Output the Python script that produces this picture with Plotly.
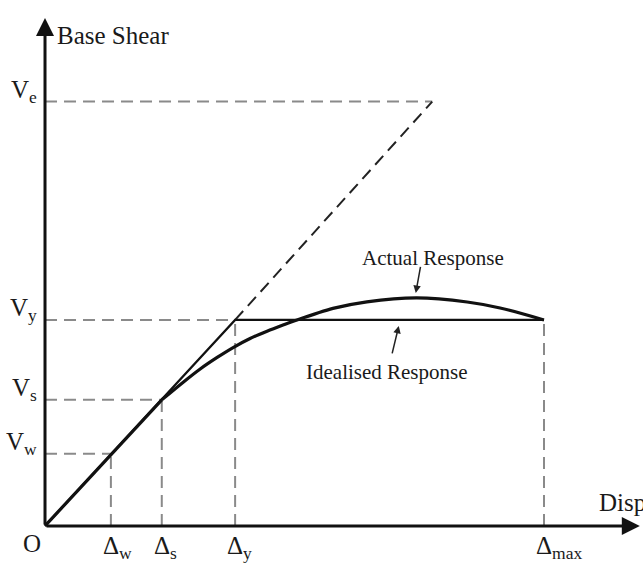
import plotly.graph_objects as go

# ---- data (abstract units: displacement, base shear) ----
disp_labels = ["Δ<sub>w</sub>", "Δ<sub>s</sub>", "Δ<sub>y</sub>", "Δ<sub>max</sub>"]
disp_values = [1.32, 2.34, 3.81, 10.0]
shear_labels = ["V<sub>w</sub>", "V<sub>s</sub>", "V<sub>y</sub>", "V<sub>e</sub>"]
shear_values = [3.5, 6.12, 10.0, 20.6]

elastic_x = [3.81, 7.76]
elastic_y = [10.0, 20.6]

idealised_x = [0, 3.81, 10.0]
idealised_y = [0, 10.0, 10.0]

# actual response: linear part then curved part
actual_lin_x = [0, 2.34]
actual_lin_y = [0, 6.12]
actual_x = [2.34, 2.77, 3.11, 3.45, 3.77, 4.11, 4.45, 4.77, 5.05, 5.77, 6.45, 7.45, 8.46, 9.12, 10.0]
actual_y = [6.12, 6.98, 7.62, 8.18, 8.66, 9.10, 9.45, 9.75, 10.0, 10.56, 10.88, 11.07, 10.87, 10.58, 10.0]

guide_h_x = [1.32, 2.34, 3.81, 7.76]   # horizontal guides end at these x
guide_v_y = [3.5, 6.12, 10.0, 10.0]    # vertical guides end at these y

FONT = "Liberation Serif"
GRAY = "#8a8a8a"
DASH = "12px,7px"

fig = go.Figure()

for gx, gy in zip(guide_h_x, shear_values):
    fig.add_trace(go.Scatter(x=[0, gx], y=[gy, gy], mode="lines",
                             line=dict(color=GRAY, width=2, dash=DASH),
                             hoverinfo="skip", showlegend=False))
for vx, vy in zip(disp_values, guide_v_y):
    fig.add_trace(go.Scatter(x=[vx, vx], y=[0, vy], mode="lines",
                             line=dict(color=GRAY, width=2, dash=DASH),
                             hoverinfo="skip", showlegend=False))

# elastic extension (dashed black)
fig.add_trace(go.Scatter(x=elastic_x, y=elastic_y, mode="lines",
                         line=dict(color="#222", width=2, dash=DASH),
                         hoverinfo="skip", showlegend=False))
# idealised response
fig.add_trace(go.Scatter(x=idealised_x, y=idealised_y, mode="lines",
                         line=dict(color="#111", width=2.2),
                         hoverinfo="skip", showlegend=False))
# actual response
fig.add_trace(go.Scatter(x=actual_lin_x, y=actual_lin_y, mode="lines",
                         line=dict(color="#111", width=3.2),
                         hoverinfo="skip", showlegend=False))
fig.add_trace(go.Scatter(x=actual_x, y=actual_y, mode="lines",
                         line=dict(color="#111", width=3.2, shape="spline", smoothing=0.8),
                         hoverinfo="skip", showlegend=False))

ann = []
# axes arrows
ann.append(dict(x=0, y=24.66, ax=0, ay=0, xref="x", yref="y", axref="x", ayref="y",
                showarrow=True, arrowhead=2, arrowsize=1.2, arrowwidth=3, arrowcolor="#111",
                text=""))
ann.append(dict(x=11.92, y=0, ax=0, ay=0, xref="x", yref="y", axref="x", ayref="y",
                showarrow=True, arrowhead=2, arrowsize=1.2, arrowwidth=3, arrowcolor="#111",
                text=""))

tf = dict(family=FONT, size=25, color="#1a1a1a")
ann.append(dict(x=0.2, y=23.8, xref="x", yref="y", text="Base Shear", showarrow=False,
                xanchor="left", yanchor="middle", font=tf))
ann.append(dict(x=11.06, y=1.12, xref="x", yref="y", text="Disp", showarrow=False,
                xanchor="left", yanchor="middle", font=tf))
ann.append(dict(x=-0.26, y=-0.87, xref="x", yref="y", text="O", showarrow=False,
                xanchor="center", yanchor="middle", font=tf))

for lab, val in zip(shear_labels, shear_values):
    ann.append(dict(x=-0.12, y=val + 0.5, xref="x", yref="y", text=lab, showarrow=False,
                    xanchor="right", yanchor="middle", font=tf))
for lab, val in zip(disp_labels, disp_values):
    ann.append(dict(x=val - 0.2, y=-1.05, xref="x", yref="y", text=lab, showarrow=False,
                    xanchor="left", yanchor="middle", font=tf))

lf = dict(family=FONT, size=21, color="#1a1a1a")
ann.append(dict(x=7.77, y=13.0, xref="x", yref="y", text="Actual Response", showarrow=False,
                xanchor="center", yanchor="middle", font=lf))
ann.append(dict(x=7.43, y=11.31, ax=7.53, ay=12.65, xref="x", yref="y", axref="x", ayref="y",
                showarrow=True, arrowhead=2, arrowsize=1, arrowwidth=1.5, arrowcolor="#222",
                text=""))
ann.append(dict(x=6.85, y=7.45, xref="x", yref="y", text="Idealised Response", showarrow=False,
                xanchor="center", yanchor="middle", font=lf))
ann.append(dict(x=7.09, y=9.71, ax=6.95, ay=8.3, xref="x", yref="y", axref="x", ayref="y",
                showarrow=True, arrowhead=2, arrowsize=1, arrowwidth=1.5, arrowcolor="#222",
                text=""))

fig.update_layout(
    width=643, height=563,
    margin=dict(l=0, r=0, t=0, b=0),
    paper_bgcolor="white", plot_bgcolor="white",
    xaxis=dict(range=[-0.902, 11.984], visible=False, fixedrange=True),
    yaxis=dict(range=[-1.80, 25.53], visible=False, fixedrange=True),
    annotations=ann,
    showlegend=False,
)

fig.write_html("out.html", config={"displayModeBar": False},
               post_script="document.body.style.margin='0';document.body.style.overflow='hidden';")
